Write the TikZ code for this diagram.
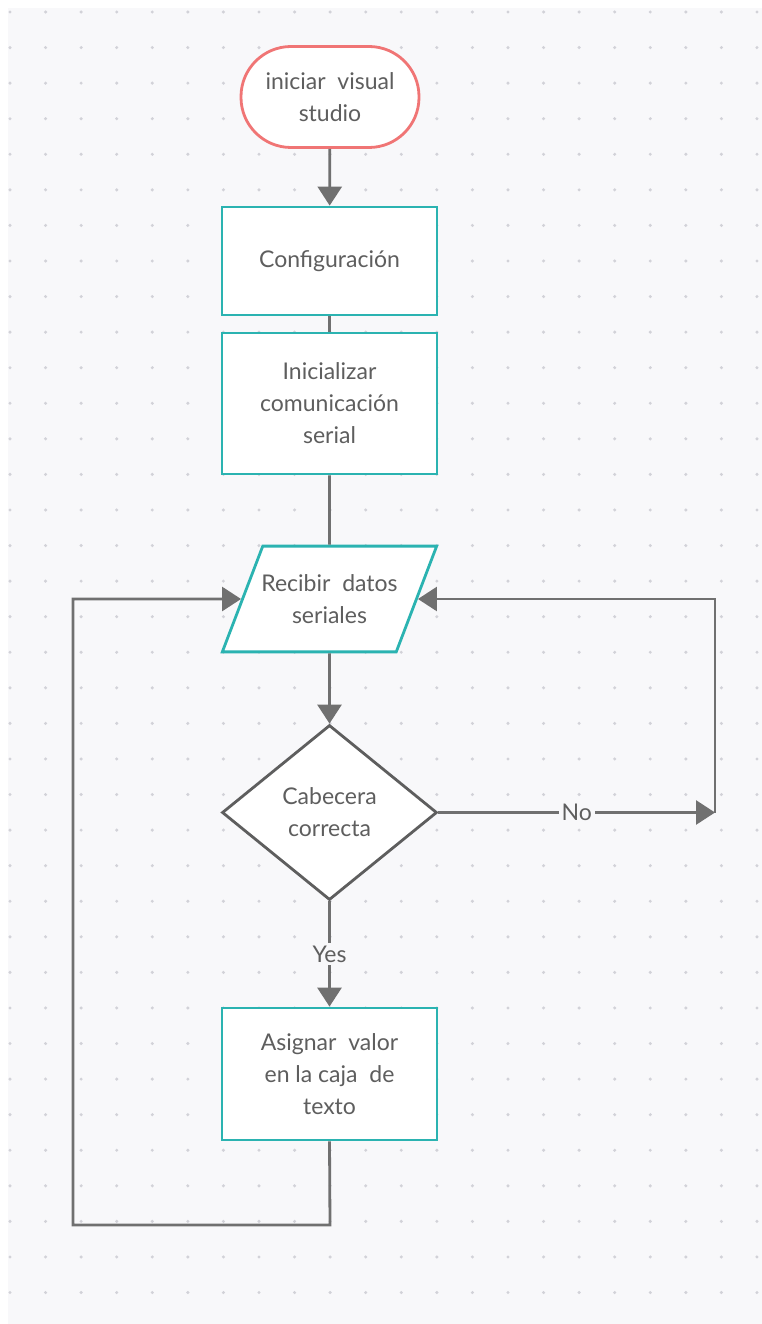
\documentclass[tikz,border=0pt]{standalone}
\usepackage{fontspec}
\setmainfont{Lato}
\usetikzlibrary{arrows.meta,shapes.geometric}

\definecolor{panel}{HTML}{F8F8FA}
\definecolor{griddot}{HTML}{D2D2D8}
\definecolor{tealline}{HTML}{2BB3B1}
\definecolor{redline}{HTML}{F07575}
\definecolor{linegray}{HTML}{707070}
\definecolor{textgray}{HTML}{5E5E5E}

\tikzset{
    box/.style={draw=tealline, line width=2.8pt, fill=white, minimum width=215pt,
        align=center, text=textgray, inner sep=0pt},
    terminal/.style={draw=redline, line width=2.8pt, fill=white, rounded corners=50pt,
        minimum width=178pt, minimum height=101pt, align=center, text=textgray},
    inbox/.style={trapezium, trapezium left angle=69, trapezium right angle=111,
        draw=tealline, line width=2.8pt, fill=white, inner xsep=-4pt, inner ysep=26pt,
        minimum width=215pt, minimum height=106pt, align=center, text=textgray},
    decision/.style={diamond, draw=textgray, line width=2.8pt, fill=white,
        minimum width=215pt, minimum height=175pt, inner sep=0pt, align=center, text=textgray},
    link/.style={draw=linegray, line width=2.8pt},
    arr/.style={link, -{Triangle[width=24pt,length=19pt]}},
    tag/.style={fill=panel, text=textgray, inner sep=3pt}
}

\begin{document}
\begin{tikzpicture}[x=1pt, y=-1pt, font=\fontsize{23}{32}\selectfont]
    % Background and dot grid
    \useasboundingbox (0,0) rectangle (762,1324);
    \fill[white] (0,0) rectangle (762,1324);
    \fill[panel] (8,8) rectangle (762,1324);
    \foreach \i in {0,...,21}
        \foreach \j in {0,...,36}
            \fill[griddot] (10+35.57*\i, 12+35.57*\j) circle (1.7pt);

    % Nodes
    \node[terminal] (start) at (330,97) {iniciar\ \ visual\\studio};
    \node[box, minimum height=108pt] (config) at (329.5,261) {Configuración};
    \node[box, minimum height=141pt] (serial) at (329.5,403.5) {Inicializar\\comunicación\\serial};
    \node[inbox] (recv) at (329.5,599) {Recibir\ \ datos\\seriales};
    \node[decision] (check) at (329.5,812.5) {Cabecera\\correcta};
    \node[box, minimum height=132pt] (assign) at (329.5,1074) {Asignar\ \ valor\\en la caja\ \ de\\texto};

    % Loop corners
    \coordinate (noEnd) at (715,812.5);
    \coordinate (backDown) at (330,1225);
    \coordinate (backLeft) at (73,1225);

    % Main flow
    \draw[arr] (start) -- (config);
    \draw[link] (config) -- (serial);
    \draw[link] (serial) -- (recv);
    \draw[arr] (recv) -- (check);
    \draw[arr] (check) -- node[tag] {Yes} (assign);

    % No branch
    \draw[arr] (check.east) -- node[tag] {No} (noEnd);
    \draw[arr] (noEnd) |- (recv.right side);

    % Return loop
    \draw[arr] (assign.south) -- (backDown) -- (backLeft) |- (recv.left side);
\end{tikzpicture}
\end{document}
